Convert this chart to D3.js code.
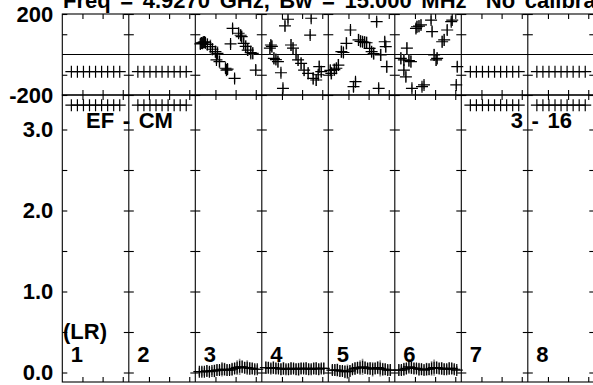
<!DOCTYPE html>
<html>
<head>
<meta charset="utf-8">
<script src="https://cdn.jsdelivr.net/npm/d3@7"></script>
<style>
  html, body { margin: 0; padding: 0; background: #fff; overflow: hidden; }
  svg { display: block; }
</style>
</head>
<body>
<div id="chart"></div>
<script>
const title = 'Freq = 4.9270 GHz, Bw = 15.000 MHz  No calibration';
const columns = ['1', '2', '3', '4', '5', '6', '7', '8'];
const flaggedColumns = ['1', '2', '7', '8'];
const flagTimes = [9, 15, 21, 27, 33, 39, 45, 51, 57];
const flagPhase = -85;
const flagAmp = 3.3;

const timeTicks = [20, 40, 60];
const phaseTicks = [-200, -100, 100, 200];
const phaseTickLabels = ['-200', '', '', '200'];
const ampTicks = [0, 0.5, 1, 1.5, 2, 2.5, 3];
const ampTickLabels = ['0.0', '', '1.0', '', '2.0', '', '3.0'];

// phase (deg) against time (min) for the four unflagged columns
const c3PhaseT = [5, 6, 7, 8, 9, 10, 12, 15, 17, 20, 21, 22, 24, 30, 31, 32, 35, 37, 39, 43, 45, 46, 48, 50, 52, 55, 57, 60];
const c3Phase = [52, 57, 55, 60, 62, 58, 50, 39, 26, 14, -27, 6, -35, -68, -77, -72, 52, 129, -118, 105, 95, 88, 55, 40, 22, 9, 6, -77];
const c3PhaseErr = [25, 30, 25, 30, 25, 30, 30, 35, 30, 30, 20, 35, 30, 25, 30, 25, 20, 20, 20, 25, 30, 30, 35, 30, 30, 35, 30, 25];

const c4PhaseT = [8, 9, 10, 12, 14, 16, 19, 21, 23, 26, 29, 31, 34, 36, 39, 42, 46, 48, 49, 51, 54, 56, 57, 59];
const c4Phase = [31, 47, 40, -19, -25, -35, -90, -167, 141, 174, 47, 31, 0, -27, -44, -77, -93, 96, 179, -118, -126, -100, -60, -85];
const c4PhaseErr = [30, 25, 30, 30, 25, 30, 20, 20, 25, 20, 30, 30, 25, 30, 30, 30, 30, 20, 20, 30, 30, 25, 30, 25];

const c5PhaseT = [2, 3, 6, 8, 10, 13, 15, 18, 22, 25, 27, 30, 32, 34, 36, 38, 41, 43, 45, 48, 50, 52, 56, 57, 58];
const c5Phase = [-78, -93, -75, -68, -52, 14, 10, 55, 121, -159, -134, 72, 65, 63, 60, 58, 30, 14, 5, 162, -167, -2, 63, 39, -60];
const c5PhaseErr = [25, 30, 30, 25, 30, 30, 25, 30, 20, 25, 20, 30, 30, 25, 30, 30, 30, 25, 30, 20, 20, 30, 25, 30, 30];

const c6PhaseT = [6, 9, 9, 11, 12, 14, 16, 17, 21, 22, 24, 26, 27, 29, 36, 37, 39, 41, 42, 47, 49, 52, 56, 57, 61, 62];
const c6Phase = [-19, -27, -77, -110, 31, -30, -35, -167, 129, 137, 140, 146, -159, -150, 170, 113, -2, -27, -19, 63, 72, 121, 162, 170, -150, -60];
const c6PhaseErr = [30, 30, 25, 25, 30, 30, 30, 20, 25, 30, 30, 25, 20, 20, 20, 25, 30, 30, 30, 30, 30, 25, 20, 20, 20, 25];

// amplitude against time (min)
const ampT = [4, 6.5, 9, 11.5, 14, 16.5, 19, 21.5, 24, 26.5, 29, 31.5, 34, 36.5, 39, 41.5, 44, 46.5, 49, 51.5, 54, 56.5, 59, 61.5];
const c3Amp = [0.01, 0.01, 0.01, 0.02, 0.01, 0.02, 0.02, 0.03, 0.03, 0.04, 0.04, 0.03, 0.03, 0.04, 0.05, 0.06, 0.07, 0.07, 0.06, 0.06, 0.05, 0.05, 0.04, 0.04];
const c4Amp = [0.06, 0.06, 0.05, 0.06, 0.05, 0.05, 0.04, 0.05, 0.04, 0.04, 0.05, 0.05, 0.04, 0.04, 0.05, 0.05, 0.05, 0.04, 0.04, 0.05, 0.05, 0.04, 0.05, 0.05];
const c5Amp = [0.03, 0.03, 0.03, 0.02, 0.02, 0.01, 0.01, 0.02, 0.04, 0.05, 0.06, 0.06, 0.07, 0.06, 0.05, 0.05, 0.04, 0.05, 0.06, 0.05, 0.04, 0.04, 0.03, 0.03];
const c6Amp = [0.03, 0.03, 0.04, 0.05, 0.07, 0.06, 0.05, 0.05, 0.04, 0.04, 0.03, 0.04, 0.04, 0.05, 0.06, 0.06, 0.05, 0.05, 0.04, 0.04, 0.05, 0.05, 0.04, 0.03];
const c3AmpErr = [0.05, 0.06, 0.05, 0.07, 0.06, 0.05, 0.08, 0.07, 0.06, 0.09, 0.08, 0.07, 0.06, 0.08, 0.07, 0.09, 0.1, 0.08, 0.07, 0.09, 0.08, 0.07, 0.06, 0.05];
const c4AmpErr = [0.08, 0.07, 0.06, 0.08, 0.07, 0.06, 0.07, 0.08, 0.06, 0.07, 0.08, 0.06, 0.07, 0.08, 0.07, 0.06, 0.08, 0.07, 0.06, 0.07, 0.08, 0.07, 0.06, 0.07];
const c5AmpErr = [0.06, 0.07, 0.08, 0.07, 0.06, 0.08, 0.09, 0.07, 0.06, 0.08, 0.07, 0.09, 0.1, 0.08, 0.07, 0.08, 0.09, 0.07, 0.08, 0.1, 0.08, 0.07, 0.06, 0.07];
const c6AmpErr = [0.07, 0.06, 0.08, 0.07, 0.09, 0.08, 0.07, 0.06, 0.08, 0.07, 0.06, 0.08, 0.07, 0.09, 0.1, 0.08, 0.07, 0.08, 0.07, 0.06, 0.08, 0.07, 0.06, 0.05];

const leftLabel = 'EF - CM';
const rightLabel = '3 - 16';
const polLabel = '(LR)';

// build point tables from the arrays
const phasePoints = [];
const ampPoints = [];
const phaseSets = { '3': [c3PhaseT, c3Phase, c3PhaseErr], '4': [c4PhaseT, c4Phase, c4PhaseErr],
  '5': [c5PhaseT, c5Phase, c5PhaseErr], '6': [c6PhaseT, c6Phase, c6PhaseErr] };
const ampSets = { '3': [c3Amp, c3AmpErr], '4': [c4Amp, c4AmpErr], '5': [c5Amp, c5AmpErr], '6': [c6Amp, c6AmpErr] };
Object.entries(phaseSets).forEach(([col, [ts, vs, es]]) => {
  ts.forEach((t, i) => phasePoints.push({ col, t, v: vs[i], e: es[i] }));
});
Object.entries(ampSets).forEach(([col, [vs, es]]) => {
  ampT.forEach((t, i) => ampPoints.push({ col, t, v: vs[i], e: es[i] }));
});
flaggedColumns.forEach(col => {
  flagTimes.forEach(t => {
    phasePoints.push({ col, t, v: flagPhase, e: 0 });
    ampPoints.push({ col, t, v: flagAmp, e: 0 });
  });
});

const width = 593, height = 385;
const left = 62.3, colW = 66.5;
const topY0 = 14, topY1 = 95, botY1 = 382;
const font = "'Liberation Sans', Arial, Helvetica, sans-serif";

const x = d3.scaleBand().domain(columns).range([left, left + colW * columns.length]);
const t = d3.scaleLinear().domain([0, 66]).range([0, x.bandwidth()]);
const yPhase = d3.scaleLinear().domain([-200, 200]).range([topY1, topY0]);
const yAmp = d3.scaleLinear().domain([0, 3]).range([372.5, 129.5]);

const svg = d3.select('#chart').append('svg')
  .attr('width', width)
  .attr('height', height)
  .style('font-family', font)
  .style('font-weight', 'bold');

svg.append('rect').attr('width', width).attr('height', height).attr('fill', '#fff');

const defs = svg.append('defs');
defs.append('clipPath').attr('id', 'clipTop').append('rect')
  .attr('x', left).attr('y', topY0).attr('width', colW * 8).attr('height', topY1 - topY0);
defs.append('clipPath').attr('id', 'clipBot').append('rect')
  .attr('x', left).attr('y', topY1).attr('width', colW * 8).attr('height', botY1 - topY1);

// title, cut off by the top edge as in the original plot
svg.append('text')
  .attr('x', 63)
  .attr('y', 8)
  .attr('font-size', 22)
  .attr('word-spacing', 3.5)
  .style('white-space', 'pre')
  .text(title);

// frames
const frame = svg.append('g').attr('stroke', '#000').attr('fill', 'none').attr('stroke-width', 1.1);
frame.append('rect').attr('x', left).attr('y', topY0).attr('width', colW * 8).attr('height', topY1 - topY0);
frame.append('rect').attr('x', left).attr('y', topY1).attr('width', colW * 8).attr('height', botY1 - topY1);
frame.append('line').attr('x1', left).attr('x2', left + colW * 8)
  .attr('y1', yPhase(0)).attr('y2', yPhase(0));
columns.slice(1).forEach(c => {
  frame.append('line').attr('x1', x(c)).attr('x2', x(c)).attr('y1', topY0).attr('y2', botY1);
});

function styleAxis(g) {
  g.select('.domain').remove();
  g.selectAll('.tick line').attr('stroke', '#000').attr('stroke-width', 1.1);
}

// time ticks in each column
columns.forEach(c => {
  const tc = d3.scaleLinear().domain(t.domain()).range([x(c), x(c) + x.bandwidth()]);
  [[d3.axisBottom, topY0], [d3.axisTop, topY1], [d3.axisBottom, topY1], [d3.axisTop, botY1]].forEach(([ax, yy]) => {
    svg.append('g')
      .attr('transform', `translate(0,${yy})`)
      .call(ax(tc).tickValues(timeTicks).tickSize(5).tickFormat(''))
      .call(styleAxis);
  });
});

// value ticks on the column separators (both sides) and the right edge
columns.slice(1).concat(['end']).forEach(c => {
  const xx = c === 'end' ? left + colW * 8 : x(c);
  svg.append('g').attr('transform', `translate(${xx},0)`)
    .call(d3.axisLeft(yPhase).tickValues(phaseTicks).tickSize(5).tickFormat('')).call(styleAxis);
  svg.append('g').attr('transform', `translate(${xx},0)`)
    .call(d3.axisLeft(yAmp).tickValues(ampTicks).tickSize(5).tickFormat('')).call(styleAxis);
  if (c !== 'end') {
    svg.append('g').attr('transform', `translate(${xx},0)`)
      .call(d3.axisRight(yPhase).tickValues(phaseTicks).tickSize(5).tickFormat('')).call(styleAxis);
    svg.append('g').attr('transform', `translate(${xx},0)`)
      .call(d3.axisRight(yAmp).tickValues(ampTicks).tickSize(5).tickFormat('')).call(styleAxis);
  }
});

// left axes with labels
function labelAxis(g) {
  styleAxis(g);
  g.selectAll('.tick text')
    .attr('fill', '#000')
    .attr('font-size', 22)
    .attr('font-family', font)
    .attr('font-weight', 'bold');
}
svg.append('g').attr('transform', `translate(${left},0)`)
  .call(d3.axisLeft(yPhase).tickValues(phaseTicks).tickSizeInner(-5).tickSizeOuter(0).tickPadding(9)
    .tickFormat((d, i) => phaseTickLabels[i]))
  .call(labelAxis);
svg.append('g').attr('transform', `translate(${left},0)`)
  .call(d3.axisLeft(yAmp).tickValues(ampTicks).tickSizeInner(-5).tickSizeOuter(0).tickPadding(9)
    .tickFormat((d, i) => ampTickLabels[i]))
  .call(labelAxis);

// error bars and crosses
function drawPoints(sel, points, y, clip) {
  const g = sel.append('g').attr('clip-path', `url(#${clip})`);
  g.selectAll('line.err')
    .data(points.filter(d => d.e > 0))
    .enter().append('line')
    .attr('class', 'err')
    .attr('x1', d => x(d.col) + t(d.t))
    .attr('x2', d => x(d.col) + t(d.t))
    .attr('y1', d => y(d.v - d.e))
    .attr('y2', d => y(d.v + d.e))
    .attr('stroke', '#8a8a8a')
    .attr('stroke-width', 1.6);
  g.selectAll('path.pt')
    .data(points)
    .enter().append('path')
    .attr('class', 'pt')
    .attr('d', d => {
      const px = x(d.col) + t(d.t), py = y(d.v);
      return `M${px - 6},${py}h12M${px},${py - 6}v12`;
    })
    .attr('stroke', '#000')
    .attr('stroke-width', 1.2)
    .attr('fill', 'none');
}
drawPoints(svg, phasePoints, yPhase, 'clipTop');
drawPoints(svg, ampPoints, yAmp, 'clipBot');

// labels
const labels = svg.append('g').attr('font-size', 22).attr('word-spacing', 2.5).attr('fill', '#000');
labels.append('text').attr('x', 86).attr('y', 127.5).text(leftLabel);
labels.append('text').attr('x', 572).attr('y', 127.5).attr('text-anchor', 'end').text(rightLabel);
labels.append('text').attr('x', 63).attr('y', 338.5).text(polLabel);
labels.selectAll('text.col')
  .data(columns)
  .enter().append('text')
  .attr('class', 'col')
  .attr('x', d => x(d) + 8.5)
  .attr('y', 361.5)
  .text(d => d);
</script>
</body>
</html>
